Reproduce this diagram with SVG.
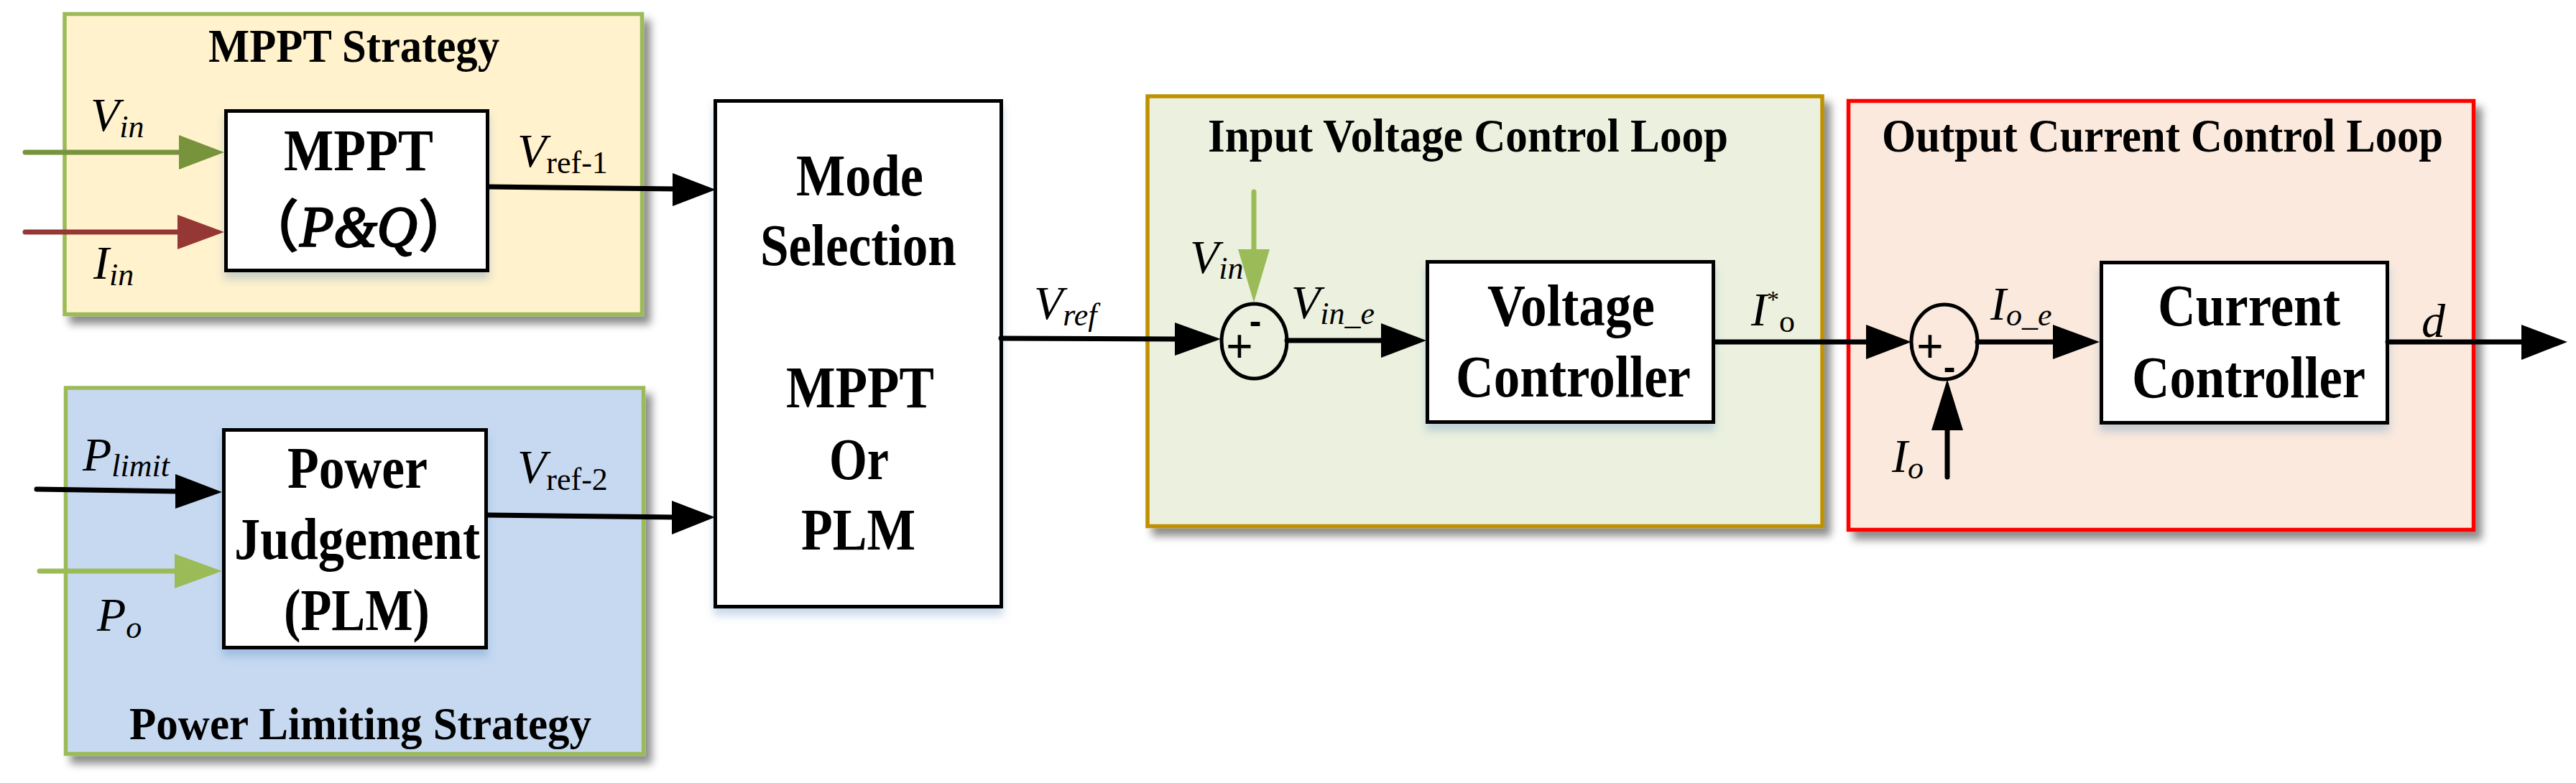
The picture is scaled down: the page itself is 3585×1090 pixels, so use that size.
<svg xmlns="http://www.w3.org/2000/svg" width="3585" height="1090" viewBox="0 0 3585 1090">
<defs>
<style>
.t{font-family:"Liberation Serif","Times New Roman",serif;font-weight:bold;fill:#000}
.tt{font-size:66px}
.bx{font-size:82px}
.m{font-family:"Liberation Serif","Times New Roman",serif;font-style:italic;font-size:66px;fill:#000}
.s{font-size:44px}
.up{font-style:normal}
.pm{font-family:"Liberation Sans",Arial,sans-serif;fill:#000;text-anchor:middle}
.blk{fill:#fff;stroke:#000;stroke-width:5}
.ln{fill:none;stroke-width:7;stroke-linecap:round}
</style>
<filter id="osh" x="-5%" y="-5%" width="115%" height="120%">
<feDropShadow dx="9" dy="11" stdDeviation="6" flood-color="#000" flood-opacity="0.45"/>
</filter>
<filter id="ish" x="-5%" y="-5%" width="110%" height="125%">
<feDropShadow dx="0" dy="10" stdDeviation="6" flood-color="#4F81BD" flood-opacity="0.3"/>
</filter>
</defs>
<rect width="3585" height="1090" fill="#fff"/>

<g id="mppt-strategy">
<rect x="90" y="19.5" width="803.5" height="418" fill="#FFF2CC" stroke="#9BBB59" stroke-width="5.5" filter="url(#osh)"/>
<text class="t tt" x="290" y="86" textLength="405" lengthAdjust="spacingAndGlyphs">MPPT Strategy</text>
</g>

<g id="power-limiting-strategy">
<rect x="91.5" y="540" width="804" height="509.5" fill="#C6D9F1" stroke="#9BBB59" stroke-width="5.5" filter="url(#osh)"/>
<text class="t" font-size="64" x="180" y="1029" textLength="643" lengthAdjust="spacingAndGlyphs">Power Limiting Strategy</text>
</g>

<g id="input-voltage-loop">
<rect x="1597" y="134" width="939" height="598.5" fill="#EBF1DE" stroke="#BF9000" stroke-width="5.5" filter="url(#osh)"/>
<text class="t tt" x="1681" y="211" textLength="724" lengthAdjust="spacingAndGlyphs">Input Voltage Control Loop</text>
</g>

<g id="output-current-loop">
<rect x="2572.5" y="140.5" width="870" height="597" fill="#FAE9DC" stroke="#FF0000" stroke-width="5.5" filter="url(#osh)"/>
<text class="t tt" x="2619" y="211" textLength="781" lengthAdjust="spacingAndGlyphs">Output Current Control Loop</text>
</g>

<g id="mppt-block">
<rect class="blk" x="314.5" y="154.5" width="364" height="222" filter="url(#ish)"/>
<text class="t bx" x="395" y="237" textLength="208" lengthAdjust="spacingAndGlyphs">MPPT</text>
<text x="340" y="343" font-size="80" font-family="Liberation Serif, Noto Sans CJK SC, serif" font-weight="bold" textLength="318" lengthAdjust="spacingAndGlyphs">（<tspan font-style="italic" font-weight="normal" stroke="#000" stroke-width="2.5">P&amp;Q</tspan>）</text>
</g>

<g id="power-judgement-block">
<rect class="blk" x="311.5" y="598.5" width="365" height="303" filter="url(#ish)"/>
<text class="t bx" x="400" y="679" textLength="195" lengthAdjust="spacingAndGlyphs">Power</text>
<text class="t bx" x="326" y="778" textLength="342" lengthAdjust="spacingAndGlyphs">Judgement</text>
<text class="t bx" x="395" y="877" textLength="203" lengthAdjust="spacingAndGlyphs">(PLM)</text>
</g>

<g id="mode-selection-block">
<rect class="blk" x="995.5" y="140.5" width="398" height="704" filter="url(#ish)"/>
<text class="t bx" x="1108" y="272" textLength="177" lengthAdjust="spacingAndGlyphs">Mode</text>
<text class="t bx" x="1058" y="369" textLength="273" lengthAdjust="spacingAndGlyphs">Selection</text>
<text class="t bx" x="1094" y="567" textLength="206" lengthAdjust="spacingAndGlyphs">MPPT</text>
<text class="t bx" x="1154" y="667" textLength="83" lengthAdjust="spacingAndGlyphs">Or</text>
<text class="t bx" x="1115" y="765" textLength="159" lengthAdjust="spacingAndGlyphs">PLM</text>
</g>

<g id="voltage-controller-block">
<rect class="blk" x="1986.5" y="364.5" width="398" height="223" filter="url(#ish)"/>
<text class="t bx" x="2070" y="453" textLength="233" lengthAdjust="spacingAndGlyphs">Voltage</text>
<text class="t bx" x="2026" y="552" textLength="327" lengthAdjust="spacingAndGlyphs">Controller</text>
</g>

<g id="current-controller-block">
<rect class="blk" x="2924.5" y="365.5" width="398" height="223" filter="url(#ish)"/>
<text class="t bx" x="3003" y="453" textLength="254" lengthAdjust="spacingAndGlyphs">Current</text>
<text class="t bx" x="2967" y="553" textLength="325" lengthAdjust="spacingAndGlyphs">Controller</text>
</g>

<g id="sum-voltage">
<ellipse cx="1745.5" cy="475" rx="45.5" ry="52" fill="none" stroke="#000" stroke-width="5"/>
<text class="pm" font-size="50" font-weight="bold" x="1747" y="464">-</text>
<text class="pm" font-size="64" x="1725" y="504">+</text>
</g>

<g id="sum-current">
<ellipse cx="2706" cy="476" rx="46" ry="52" fill="none" stroke="#000" stroke-width="5"/>
<text class="pm" font-size="64" x="2686" y="504">+</text>
<text class="pm" font-size="50" font-weight="bold" x="2713" y="528">-</text>
</g>

<g id="connectors">
<line class="ln" x1="35" y1="212" x2="252" y2="212" stroke="#77933C"/>
<polygon points="249,188 312,212 249,236" fill="#77933C"/>
<line class="ln" x1="35" y1="323" x2="250" y2="323" stroke="#953735"/>
<polygon points="247,299 312,323 247,347" fill="#953735"/>
<line class="ln" x1="681" y1="260" x2="940" y2="263" stroke="#000"/>
<polygon points="936,241 996,264 936,287" fill="#000"/>
<line class="ln" x1="51" y1="681" x2="248" y2="684" stroke="#000"/>
<polygon points="244,660 309,685 244,708" fill="#000"/>
<line class="ln" x1="55" y1="795" x2="246" y2="795" stroke="#9BBB59"/>
<polygon points="243,771 309,795 243,819" fill="#9BBB59"/>
<line class="ln" x1="679" y1="717" x2="938" y2="720" stroke="#000"/>
<polygon points="935,697 995,720 935,744" fill="#000"/>
<line class="ln" x1="1393" y1="471" x2="1638" y2="472" stroke="#000"/>
<polygon points="1635,449 1699,472 1635,495" fill="#000"/>
<line class="ln" x1="1745" y1="267" x2="1745" y2="350" stroke="#9BBB59"/>
<polygon points="1723,347 1745,421 1767,347" fill="#9BBB59"/>
<line class="ln" x1="1791" y1="474" x2="1925" y2="474" stroke="#000"/>
<polygon points="1922,450 1985,474 1922,498" fill="#000"/>
<line class="ln" x1="2386" y1="476" x2="2600" y2="476" stroke="#000"/>
<polygon points="2597,452 2660,476 2597,500" fill="#000"/>
<line class="ln" x1="2752" y1="476" x2="2860" y2="476" stroke="#000"/>
<polygon points="2857,452 2922,476 2857,500" fill="#000"/>
<line class="ln" x1="2710" y1="664" x2="2710" y2="596" stroke="#000"/>
<polygon points="2688,599 2710,528 2732,599" fill="#000"/>
<line class="ln" x1="3323" y1="476" x2="3512" y2="476" stroke="#000"/>
<polygon points="3509,452 3573,476 3509,501" fill="#000"/>
</g>

<g id="labels">
<text class="m" x="126" y="182">V<tspan class="s" dy="9">in</tspan></text>
<text class="m" x="130" y="388">I<tspan class="s" dy="9">in</tspan></text>
<text class="m" x="720" y="232">V<tspan class="s up" dy="9">ref-1</tspan></text>
<text class="m" x="115" y="655">P<tspan class="s" dy="8">limit</tspan></text>
<text class="m" x="135" y="878">P<tspan class="s" dy="10">o</tspan></text>
<text class="m" x="720" y="672">V<tspan class="s up" dy="10">ref-2</tspan></text>
<text class="m" x="1439" y="444">V<tspan class="s" dy="9">ref</tspan></text>
<text class="m" x="1656" y="380">V<tspan class="s" dy="8">in</tspan></text>
<text class="m" x="1797" y="443">V<tspan class="s" dy="8">in_e</tspan></text>
<text class="m" x="2437" y="453">I<tspan class="up" font-size="34" dy="-25">*</tspan><tspan class="s up" dy="34">o</tspan></text>
<text class="m" x="2770" y="445">I<tspan class="s" dy="8">o_e</tspan></text>
<text class="m" x="2633" y="657">I<tspan class="s" dy="9">o</tspan></text>
<text class="m" x="3370" y="469">d</text>
</g>
</svg>
